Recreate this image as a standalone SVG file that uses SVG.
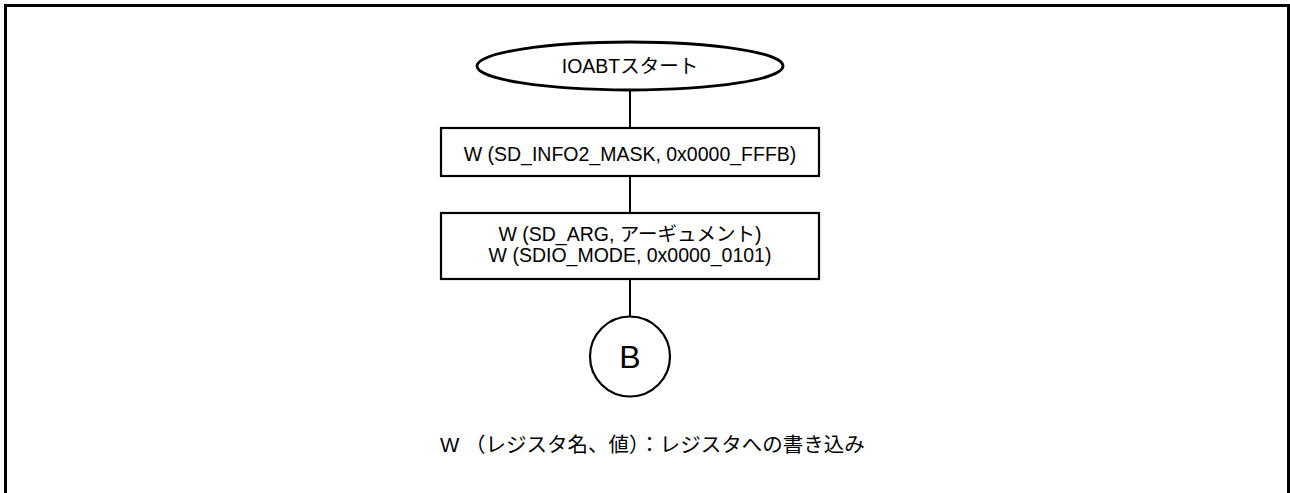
<svg xmlns="http://www.w3.org/2000/svg" width="1290" height="493" viewBox="0 0 1290 493">
<style>
.s{fill:#fff;stroke:#000;stroke-width:2.2}
.t{font-family:"Liberation Sans","Noto Sans CJK JP",sans-serif;font-size:19.5px;fill:#000;text-anchor:middle}
.c{stroke:#000;stroke-width:2;fill:none}
</style>
<rect width="1290" height="493" fill="#fff"/>
<path d="M5.5 493 V5.5 H1288.5 V493" fill="none" stroke="#000" stroke-width="3"/>
<g id="connectors">
<line class="c" x1="630" y1="90" x2="630" y2="128"/>
<line class="c" x1="630" y1="176" x2="630" y2="213"/>
<line class="c" x1="630" y1="279" x2="630" y2="316"/>
</g>
<g id="start">
<ellipse class="s" cx="630" cy="66" rx="153" ry="24" style="stroke-width:2.8"/>
<text class="t" x="630" y="73">IOABTスタート</text>
</g>
<g id="mask">
<rect class="s" x="441" y="128" width="378" height="48"/>
<text class="t" x="630" y="160.5">W (SD_INFO2_MASK, 0x0000_FFFB)</text>
</g>
<g id="arg">
<rect class="s" x="441" y="213" width="378" height="66"/>
<text class="t" x="630" y="241">W (SD_ARG, アーギュメント)</text>
<text class="t" x="630" y="262">W (SDIO_MODE, 0x0000_0101)</text>
</g>
<g id="B">
<circle class="s" cx="630" cy="356.5" r="40"/>
<text class="t" x="630" y="368" style="font-size:32px">B</text>
</g>
<g id="note">
<text class="t" x="440" y="452" style="text-anchor:start;font-size:20.5px">W （レジスタ名、値）：レジスタへの書き込み</text>
</g>
</svg>
